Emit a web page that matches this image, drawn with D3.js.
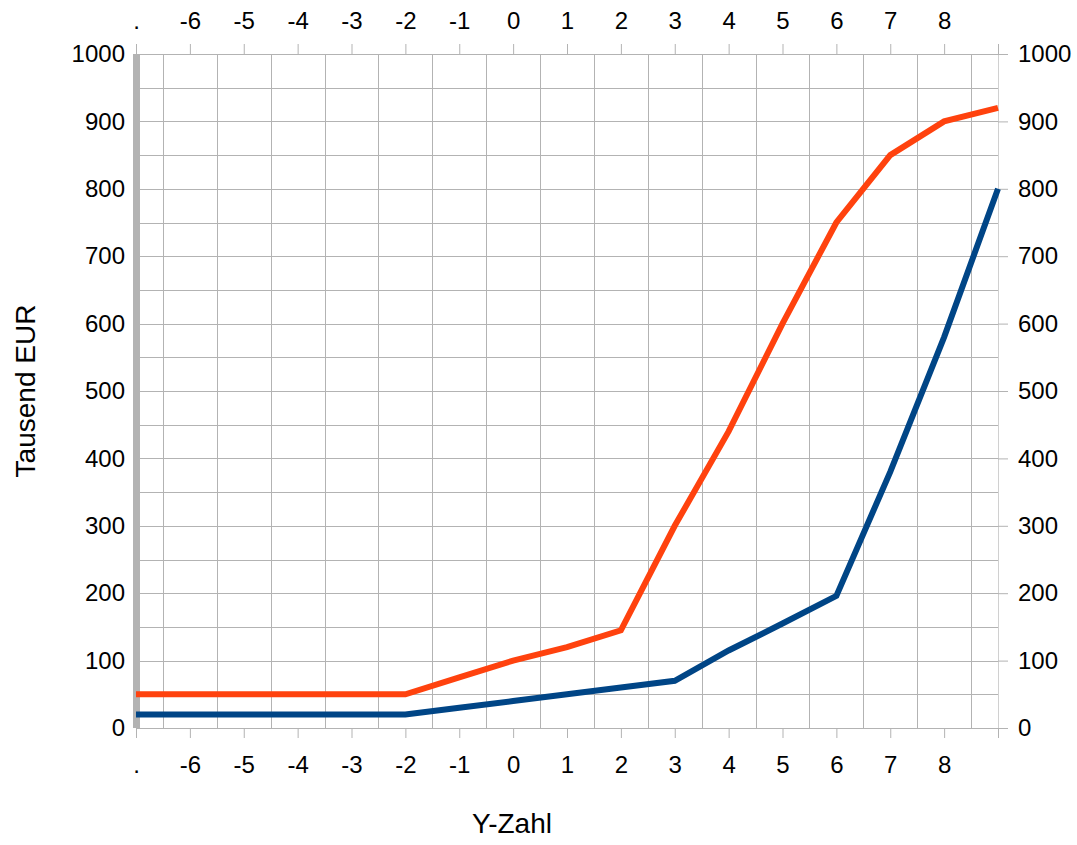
<!DOCTYPE html>
<meta charset="utf-8">
<title>Y-Zahl</title>
<script src="https://d3js.org/d3.v7.min.js"></script>
<style>
  body { margin: 0; background: #fff; }
  text { font-family: "Liberation Sans", Arial, sans-serif; fill: #000; }
</style>
<body>
</body>
<script>
var categories = [".", "-6", "-5", "-4", "-3", "-2", "-1", "0", "1", "2", "3", "4", "5", "6", "7", "8", ""];
var orangeValues = [50, 50, 50, 50, 50, 50, 75, 100, 120, 145, 300, 440, 600, 750, 850, 900, 920];
var blueValues = [20, 20, 20, 20, 20, 20, 30, 40, 50, 60, 70, 115, 155, 196, 380, 580, 800];
var yTicks = [0, 100, 200, 300, 400, 500, 600, 700, 800, 900, 1000];

var width = 1077, height = 845;
var plotLeft = 136, plotRight = 998, plotTop = 54, plotBottom = 728;

var svg = d3.select("body").append("svg")
            .attr("width", width)
            .attr("height", height);

var x = d3.scalePoint().domain(d3.range(categories.length)).range([plotLeft, plotRight]);
var y = d3.scaleLinear().domain([0, 1000]).range([plotBottom, plotTop]);
var step = x.step();

// grid
var grid = svg.append("g").attr("stroke", "#b3b3b3").attr("stroke-width", 1);
grid.selectAll("line.h")
    .data(d3.range(0, 1001, 50))
    .enter().append("line")
    .attr("x1", plotLeft).attr("x2", plotRight)
    .attr("y1", function (d) { return Math.round(y(d)) + 0.5; })
    .attr("y2", function (d) { return Math.round(y(d)) + 0.5; });
grid.selectAll("line.v")
    .data(d3.range(categories.length - 1))
    .enter().append("line")
    .attr("x1", function (d) { return Math.round(x(d) + step / 2) + 0.5; })
    .attr("x2", function (d) { return Math.round(x(d) + step / 2) + 0.5; })
    .attr("y1", plotTop).attr("y2", plotBottom);
grid.append("line")
    .attr("x1", plotRight + 0.5).attr("x2", plotRight + 0.5)
    .attr("y1", plotTop).attr("y2", plotBottom)
    .attr("stroke", "#d0d0d0");

// axes
var xBottom = d3.axisBottom(x).tickSize(10).tickPadding(18)
                .tickFormat(function (d) { return categories[d]; });
var xTop = d3.axisTop(x).tickSize(10).tickPadding(15)
             .tickFormat(function (d) { return categories[d]; });
var yLeft = d3.axisLeft(y).tickValues(yTicks).tickFormat(d3.format("d"))
              .tickSize(0).tickPadding(7);
var yRight = d3.axisRight(y).tickValues(yTicks).tickFormat(d3.format("d"))
               .tickSize(10).tickPadding(10);

function styleAxis(g) {
  g.attr("font-size", 24).attr("font-family", "Liberation Sans, Arial, sans-serif");
  g.select(".domain").remove();
  g.selectAll(".tick line").attr("stroke", "#b3b3b3");
  g.selectAll("text").attr("fill", "#000");
}

svg.append("g").attr("transform", "translate(0," + plotBottom + ")").call(xBottom).call(styleAxis);
svg.append("g").attr("transform", "translate(0," + plotTop + ")").call(xTop).call(styleAxis);
svg.append("g").attr("transform", "translate(" + (plotLeft - 4) + ",0)").call(yLeft).call(styleAxis);
svg.append("g").attr("transform", "translate(" + plotRight + ",0)").call(yRight).call(styleAxis);

// thick left axis bar
svg.append("rect")
   .attr("x", plotLeft - 3).attr("y", plotTop)
   .attr("width", 7).attr("height", plotBottom - plotTop)
   .attr("fill", "#b3b3b3");

// lines
var line = d3.line()
             .x(function (d, i) { return x(i); })
             .y(function (d) { return y(d); });

svg.append("path").datum(blueValues)
   .attr("d", line).attr("fill", "none")
   .attr("stroke", "#004586").attr("stroke-width", 6);
svg.append("path").datum(orangeValues)
   .attr("d", line).attr("fill", "none")
   .attr("stroke", "#ff420e").attr("stroke-width", 6);

// titles
svg.append("text")
   .attr("x", 512).attr("y", 833)
   .attr("text-anchor", "middle")
   .attr("font-size", 28)
   .text("Y-Zahl");
svg.append("text")
   .attr("transform", "translate(35,391) rotate(-90)")
   .attr("text-anchor", "middle")
   .attr("font-size", 28)
   .text("Tausend EUR");
</script>
